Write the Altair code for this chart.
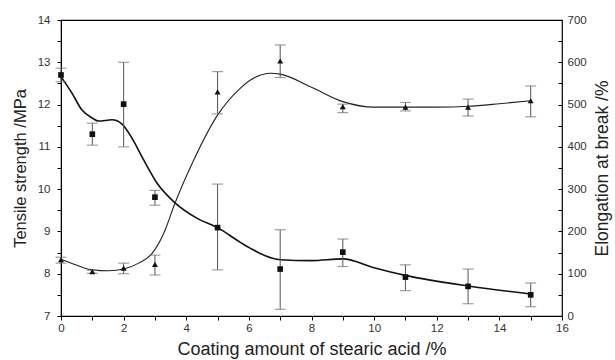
import altair as alt
import pandas as pd

# measured points
x_pts = [0, 1, 2, 3, 5, 7, 9, 11, 13, 15]
ts = [12.70, 11.30, 12.01, 9.81, 9.09, 8.11, 8.51, 7.92, 7.70, 7.50]
ts_hi = [12.86, 11.56, 13.00, 9.97, 10.12, 9.04, 8.82, 8.21, 8.11, 7.78]
ts_lo = [12.54, 11.04, 11.00, 9.62, 8.09, 7.16, 8.17, 7.60, 7.29, 7.22]
el = [133, 105, 113, 122, 530, 603, 495, 494, 494, 509]
el_hi = [139, 108, 125, 144, 578, 641, 501, 505, 513, 544]
el_lo = [125, 101, 100, 97, 478, 564, 481, 485, 473, 471]

# smooth fitted curves
ts_curve_x = [0, 0.35, 0.67, 1.0, 1.2, 1.63, 1.95, 2.27, 2.64, 3.07, 3.65, 4.35, 5.0, 5.73, 6.05, 7.0, 8.0, 9.0, 10.0, 11.0, 13.0, 15.0]
ts_curve_y = [12.66, 12.27, 11.87, 11.68, 11.61, 11.64, 11.54, 11.20, 10.69, 10.14, 9.67, 9.31, 9.09, 8.74, 8.60, 8.33, 8.31, 8.35, 8.14, 7.96, 7.71, 7.52]
el_curve_x = [0, 0.46, 0.99, 1.52, 2.0, 2.48, 2.91, 3.33, 3.6, 4.24, 5.0, 5.73, 6.05, 6.7, 7.0, 8.0, 9.0, 10.0, 11.0, 12.0, 13.0, 14.0, 15.0]
el_curve_y = [134, 121, 109, 107, 111, 125, 148, 204, 259, 369, 475, 539, 558, 574, 572, 541, 507, 494, 494, 494, 496, 502, 509]

x_ticks = [0, 1, 2, 3, 4, 5, 6, 7, 8, 9, 10, 11, 12, 13, 14, 15, 16]
left_ticks = [7, 7.5, 8, 8.5, 9, 9.5, 10, 10.5, 11, 11.5, 12, 12.5, 13, 13.5, 14]
right_ticks = [0, 50, 100, 150, 200, 250, 300, 350, 400, 450, 500, 550, 600, 650, 700]

pts = pd.DataFrame({"x": x_pts, "ts": ts, "ts_hi": ts_hi, "ts_lo": ts_lo,
                    "el": el, "el_hi": el_hi, "el_lo": el_lo})
tsc = pd.DataFrame({"x": ts_curve_x, "y": ts_curve_y})
elc = pd.DataFrame({"x": el_curve_x, "y": el_curve_y})

FONT = "Liberation Sans"
common = dict(grid=False, labelFontSize=11.5, labelFont=FONT, titleFont=FONT,
              labelColor="#333", titleColor="#222", tickColor="#000", titleFontWeight="normal",
              labelFlush=False, tickSize=4)
xscale = alt.Scale(domain=[0, 16], nice=False, zero=False)
xaxis = alt.Axis(values=x_ticks, title="Coating amount of stearic acid /%",
                 labelExpr="datum.value % 2 === 0 ? format(datum.value, 'd') : ''",
                 labelPadding=2, titlePadding=7, titleFontSize=18, domainColor="#000", **common)
lscale = alt.Scale(domain=[7, 14], nice=False, zero=False)
rscale = alt.Scale(domain=[0, 700], nice=False, zero=False)
laxis = alt.Axis(values=left_ticks, title="Tensile strength /MPa", orient="left",
                 labelExpr="datum.value % 1 === 0 ? format(datum.value, 'd') : ''",
                 labelPadding=7, titlePadding=9, titleFontSize=16.5, domainColor="#000", **common)
raxis = alt.Axis(values=right_ticks, title="Elongation at break  /%", orient="right",
                 labelExpr="datum.value % 100 === 0 ? format(datum.value, 'd') : ''",
                 offset=-4, domain=False, labelPadding=5, titleFontSize=17.5,
                 titlePadding=25, titleAngle=270, **common)

X = alt.X("x:Q", scale=xscale, axis=xaxis)

ERR = "#555"
CAP = "#777"


def LY(f):
    return alt.Y(f, scale=lscale, axis=laxis)


def RY(f):
    return alt.Y(f, scale=rscale, axis=raxis)


# tensile strength layers
ts_line = alt.Chart(tsc).mark_line(interpolate="monotone", color="#111", strokeWidth=1.6).encode(
    x=X, y=LY("y:Q"))
ts_err = alt.Chart(pts).mark_rule(color=ERR, strokeWidth=1).encode(
    x=X, y=LY("ts_lo:Q"), y2="ts_hi:Q")
ts_cap_hi = alt.Chart(pts).mark_tick(orient="horizontal", color=CAP, size=11, thickness=1.2).encode(
    x=X, y=LY("ts_hi:Q"))
ts_cap_lo = alt.Chart(pts).mark_tick(orient="horizontal", color=CAP, size=11, thickness=1.2).encode(
    x=X, y=LY("ts_lo:Q"))
ts_pts = alt.Chart(pts).mark_point(shape="square", filled=True, color="#111", size=32, opacity=1).encode(
    x=X, y=LY("ts:Q"))
left = alt.layer(ts_line, ts_err, ts_cap_hi, ts_cap_lo, ts_pts)

# elongation layers
el_line = alt.Chart(elc).mark_line(interpolate="monotone", color="#222", strokeWidth=1.1).encode(
    x=X, y=RY("y:Q"))
el_err = alt.Chart(pts).mark_rule(color=ERR, strokeWidth=1).encode(
    x=X, y=RY("el_lo:Q"), y2="el_hi:Q")
el_cap_hi = alt.Chart(pts).mark_tick(orient="horizontal", color=CAP, size=11, thickness=1.2).encode(
    x=X, y=RY("el_hi:Q"))
el_cap_lo = alt.Chart(pts).mark_tick(orient="horizontal", color=CAP, size=11, thickness=1.2).encode(
    x=X, y=RY("el_lo:Q"))
el_pts = alt.Chart(pts).mark_point(shape="triangle-up", filled=True, color="#111", size=36, opacity=1).encode(
    x=X, y=RY("el:Q"))
right = alt.layer(el_line, el_err, el_cap_hi, el_cap_lo, el_pts)

chart = alt.layer(left, right).resolve_scale(y="independent").properties(
    width=501, height=296,
    autosize=alt.AutoSizeParams(type="none"),
    padding={"left": 61, "top": 20, "right": 53, "bottom": 44},
    background="white",
).configure_view(stroke="#000", strokeWidth=1.2)

chart.save("out.html", embed_options={"renderer": "svg", "actions": False})
